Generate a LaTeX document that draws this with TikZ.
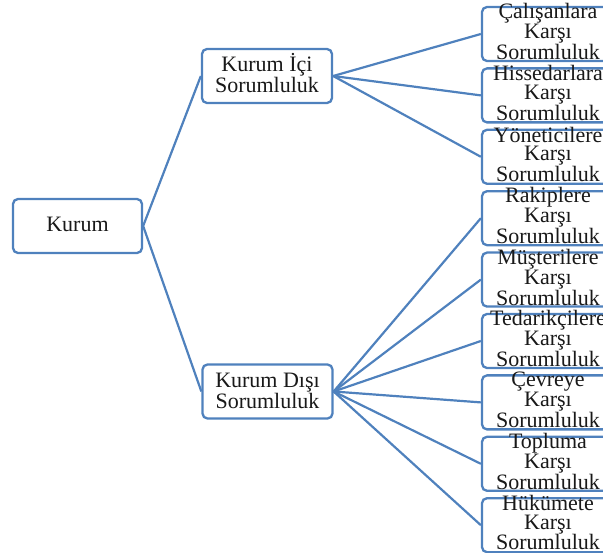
\documentclass[tikz,border=0pt]{standalone}
\usepackage{fontspec}
\setmainfont{Liberation Serif}
\definecolor{bblue}{RGB}{79,129,189}
\begin{document}
\begin{tikzpicture}[x=1pt,y=-1pt,
  box/.style={draw=bblue,line width=2.3pt,rounded corners=5pt,fill=white,inner sep=0pt,minimum height=54pt},
  midbox/.style={box,minimum width=130pt},
  leafbox/.style={box,minimum width=132pt},
  txt/.style={inner sep=0pt,align=center,font=\fontsize{22}{18.5}\selectfont,text=black!90},
  conn/.style={draw=bblue,line width=2.2pt}]
\useasboundingbox (0,0) rectangle (603,553);
\node[box,minimum width=129pt] (k) at (77.5,226) {};
\node[midbox] (ic) at (267,76) {};
\node[midbox] (dis) at (267.5,391.5) {};
\foreach \i/\y in {1/34,2/95.4,3/156.8,4/218.2,5/279.6,6/341,7/402.4,8/463.8,9/525.2}{
  \node[leafbox] (c\i) at (548,\y) {};
}
\draw[conn] (k.east) -- (ic.west);
\draw[conn] (k.east) -- (dis.west);
\foreach \i in {1,2,3}{\draw[conn] (ic.east) -- (c\i.west);}
\foreach \i in {4,5,6,7,8,9}{\draw[conn] (dis.east) -- (c\i.west);}
\node[txt] (tk) at ([yshift=1.5pt]k.center) {Kurum};
\node[txt] (tic) at ([yshift=3pt]ic.center) {Kurum İçi\\Sorumluluk};
\node[txt] (tdis) at ([yshift=1pt]dis.center) {Kurum Dışı\\Sorumluluk};
\foreach \i/\t in {1/Çalışanlara,2/Hissedarlara,3/Yöneticilere,4/Rakiplere,5/Müşterilere,6/Tedarikçilere,7/Çevreye,8/Topluma,9/Hükümete}{
  \node[txt] (t\i) at ([yshift=2.5pt]c\i.center) {\t\\Karşı\\Sorumluluk};
}
\end{tikzpicture}
\end{document}
